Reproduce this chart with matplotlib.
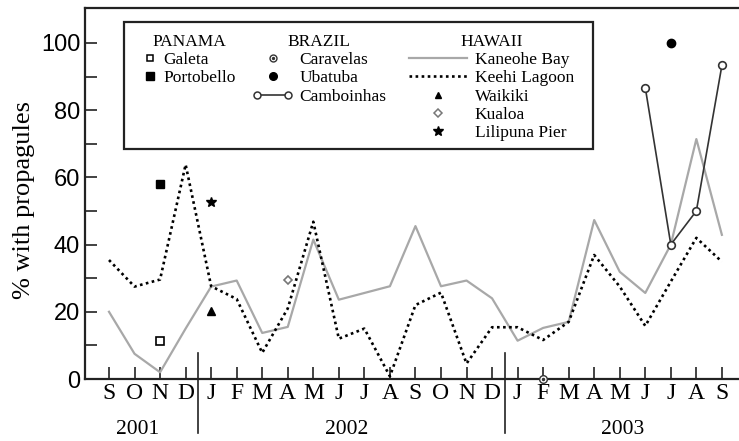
import matplotlib
matplotlib.use("Agg")
import matplotlib.pyplot as plt
import matplotlib.patches as patches
import matplotlib.transforms as mtransforms
from matplotlib.lines import Line2D
from matplotlib.legend_handler import HandlerLine2D
import numpy as np

# months from Sep 2001 to Sep 2003
months = ['S', 'O', 'N', 'D', 'J', 'F', 'M', 'A', 'M', 'J', 'J', 'A',
          'S', 'O', 'N', 'D', 'J', 'F', 'M', 'A', 'M', 'J', 'J', 'A', 'S']
years = ['2001', '2002', '2003']
year_pos = [1.1, 9.3, 20.1]
year_breaks = [3.5, 15.5]

kaneohe = [20, 7.5, 2, 15, 27.5, 29.3, 13.7, 15.5, 41.5, 23.6, 25.6, 27.6, 45.5,
           27.6, 29.3, 24, 11.4, 15.2, 17, 47.3, 31.9, 25.6, 40, 71.4, 42.9]
keehi = [35.4, 27.5, 29.6, 63.8, 27.6, 23.8, 7.8, 21, 46.8, 12, 15, 0.8, 22,
         25.7, 4.6, 15.4, 15.4, 11.6, 17, 36.9, 27.5, 15.8, 29, 42, 34.9]

camboinhas_x = [21, 22, 23, 24]
camboinhas = [86.7, 40, 50, 93.3]
ubatuba_x, ubatuba = [22], [100]
caravelas_x, caravelas = [17], [0]
galeta_x, galeta = [2], [11.3]
portobello_x, portobello = [2], [58]
waikiki_x, waikiki = [4], [20.2]
kualoa_x, kualoa = [7], [29.5]
lilipuna_x, lilipuna = [4], [52.8]

serif = 'Liberation Serif'
sans = 'Liberation Sans'
grey = '#a8a8a8'
dark = '#222222'
dots = (0, (1, 1.3))

fig = plt.figure(figsize=(7.39, 4.41), dpi=100)
ax = fig.add_axes([85 / 739, 1 - 379 / 441, 654 / 739, 371 / 441])

x = np.arange(len(months))
ax.plot(x, kaneohe, color=grey, lw=1.6, zorder=2)
ax.plot(x, keehi, color='black', lw=1.9, ls=dots, zorder=3)
ax.plot(camboinhas_x, camboinhas, color='#333333', lw=1.2, marker='o',
        ms=5.5, mfc='white', mec='#333333', mew=1.2, zorder=4)
ax.plot(ubatuba_x, ubatuba, 'o', color='black', ms=6, zorder=4)
ax.plot(caravelas_x, caravelas, 'o', mfc='white', mec='#333333', ms=5.5,
        mew=1.0, clip_on=False, zorder=5)
ax.plot(caravelas_x, caravelas, 'o', color='#333333', ms=1.5, clip_on=False, zorder=6)
ax.plot(galeta_x, galeta, 's', mfc='white', mec='black', ms=5.5, mew=1.2, zorder=4)
ax.plot(portobello_x, portobello, 's', color='black', ms=6, zorder=4)
ax.plot(waikiki_x, waikiki, '^', color='black', ms=5.5, zorder=4)
ax.plot(kualoa_x, kualoa, 'D', mfc='white', mec='#777777', ms=4.5, mew=1.2, zorder=4)
ax.plot(lilipuna_x, lilipuna, '*', color='black', ms=7.5, zorder=4)

ax.set_xlim(-0.94, 24.67)
ax.set_ylim(0, 110.4)

ax.set_xticks(x)
ax.set_xticklabels(months, fontfamily=serif, fontsize=17)
ax.set_yticks(np.arange(0, 101, 20))
ax.set_yticks(np.arange(10, 100, 20), minor=True)
ax.set_yticklabels([str(v) for v in range(0, 101, 20)], fontfamily=sans, fontsize=17)
ax.tick_params(axis='both', which='both', direction='in', length=8.6, width=1.2,
               color=dark)
ax.tick_params(axis='x', pad=3)
ax.tick_params(axis='y', pad=3.5)

for s in ['left', 'bottom', 'top']:
    ax.spines[s].set_linewidth(1.6)
    ax.spines[s].set_color(dark)
ax.spines['right'].set_visible(False)

ax.set_ylabel('% with propagules', fontfamily=serif, fontsize=19, labelpad=4)
ax.yaxis.label.set_y((379 - 200) / 371)

trans = mtransforms.blended_transform_factory(ax.transData, ax.transAxes)
for b in year_breaks:
    ax.plot([b, b], [0.07, -0.146], color=dark, lw=1.2, transform=trans, clip_on=False)
for yp, yl in zip(year_pos, years):
    ax.text(yp, -0.135, yl, transform=trans, ha='center', va='center',
            fontfamily=serif, fontsize=15.5)

# legend
fs = 12.5
h_galeta = Line2D([], [], marker='s', ls='none', mfc='white', mec='black', ms=5, mew=1.1)
h_porto = Line2D([], [], marker='s', ls='none', color='black', ms=5.5)
h_cara = (Line2D([], [], marker='o', ls='none', mfc='white', mec='#333333', ms=5, mew=1.0),
          Line2D([], [], marker='o', ls='none', color='#333333', ms=1.4))
h_uba = Line2D([], [], marker='o', ls='none', color='black', ms=5.5)
h_cam = Line2D([], [], color='#333333', lw=1.2, marker='o', ms=5, mfc='white',
               mec='#333333', mew=1.1)
h_kan = Line2D([], [], color=grey, lw=1.6)
h_kee = Line2D([], [], color='black', lw=1.9, ls=dots)
h_wai = Line2D([], [], marker='^', ls='none', color='black', ms=5)
h_kua = Line2D([], [], marker='D', ls='none', mfc='white', mec='#777777', ms=4, mew=1.1)
h_lil = Line2D([], [], marker='*', ls='none', color='black', ms=7)

common = dict(loc='upper left', frameon=False, borderpad=0, borderaxespad=0,
              labelspacing=0.12, prop={'family': serif, 'size': fs},
              title_fontproperties={'family': serif, 'size': fs})
top = (379 - 34) / 371

leg1 = ax.legend([h_galeta, h_porto], ['Galeta', 'Portobello'], title='PANAMA',
                 bbox_to_anchor=(0.0887, top), handlelength=0.8, handletextpad=0.35,
                 **common)
ax.add_artist(leg1)
leg2 = ax.legend([h_cara, h_uba, h_cam], ['Caravelas', 'Ubatuba', 'Camboinhas'],
                 title='BRAZIL', bbox_to_anchor=(0.2554, top), handlelength=2.36,
                 handletextpad=0.35, handler_map={h_cam: HandlerLine2D(numpoints=2)},
                 **common)
ax.add_artist(leg2)
leg3 = ax.legend([h_kan, h_kee, h_wai, h_kua, h_lil],
                 ['Kaneohe Bay', 'Keehi Lagoon', 'Waikiki', 'Kualoa', 'Lilipuna Pier'],
                 title='HAWAII', bbox_to_anchor=(0.4954, top), handlelength=3.33,
                 handletextpad=0.46, **common)

box = patches.Rectangle((0.0596, 0.620), 0.717, 0.342, transform=ax.transAxes,
                        fill=False, lw=1.6, edgecolor=dark, zorder=6)
ax.add_patch(box)

fig.savefig('out.png', dpi=100)
